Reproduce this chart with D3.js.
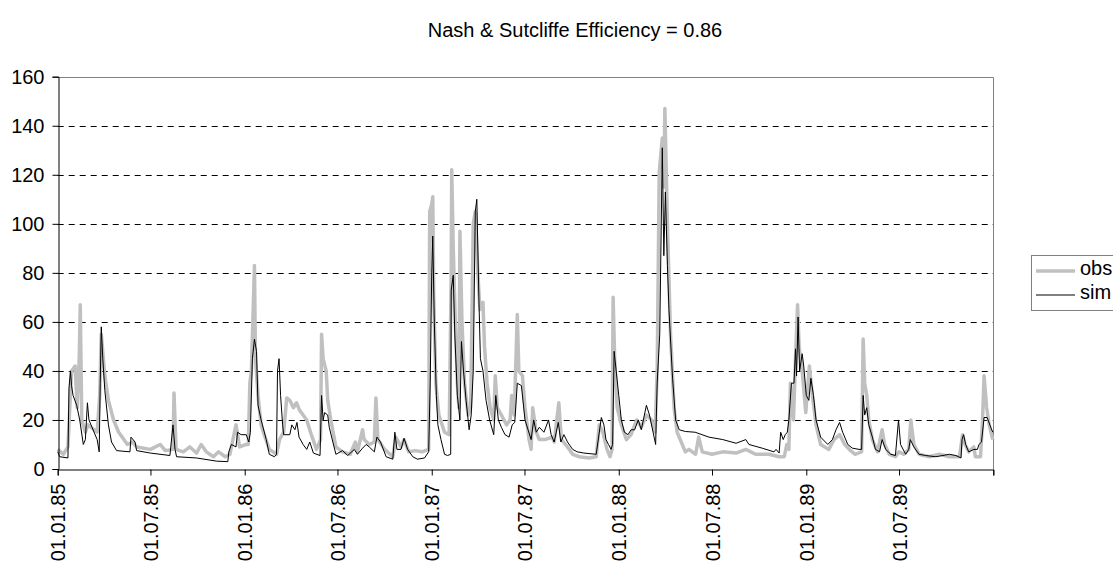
<!DOCTYPE html>
<html lang="en">
<head>
<meta charset="utf-8">
<script src="https://d3js.org/d3.v7.min.js"></script>
<style>
  body { margin: 0; background: #fff; }
  svg text { font-family: "Liberation Sans", Arial, sans-serif; fill: #000; }
</style>
</head>
<body>
<script>
// ---- data ----
const title = "Nash & Sutcliffe Efficiency = 0.86";
const yTicks = [0, 20, 40, 60, 80, 100, 120, 140, 160];
const xTickLabels = ["01.01.85", "01.07.85", "01.01.86", "01.07.86", "01.01.87",
                     "01.07.87", "01.01.88", "01.07.88", "01.01.89", "01.07.89"];
const seriesNames = ["obs", "sim"];

const obsDates = [
  "1985-01-01","1985-01-12","1985-01-21","1985-01-28","1985-02-04","1985-02-08","1985-02-12","1985-02-14",
  "1985-02-17","1985-02-24","1985-03-01","1985-03-19","1985-03-24","1985-03-27","1985-04-03","1985-04-10",
  "1985-04-20","1985-04-30","1985-05-07","1985-05-17","1985-05-27","1985-06-04","1985-07-01","1985-07-20",
  "1985-07-30","1985-08-14","1985-08-16","1985-08-20","1985-09-03","1985-09-16","1985-09-29","1985-10-08",
  "1985-10-18","1985-11-01","1985-11-11","1985-11-24","1985-12-03","1985-12-15","1985-12-22",
  "1986-01-04","1986-01-08","1986-01-11","1986-01-14","1986-01-20","1986-01-22","1986-01-27","1986-02-02",
  "1986-02-08","1986-02-18","1986-03-04","1986-03-10","1986-03-18","1986-03-24","1986-03-30","1986-04-06",
  "1986-04-12","1986-04-18","1986-05-02","1986-05-11","1986-05-21","1986-05-29","1986-05-31","1986-06-03",
  "1986-06-09","1986-06-12","1986-06-18","1986-06-28","1986-07-11","1986-07-26","1986-08-05","1986-08-09",
  "1986-08-19","1986-08-22","1986-09-01","1986-09-11","1986-09-14","1986-09-18","1986-10-01","1986-10-17",
  "1986-10-23","1986-11-02","1986-11-08","1986-11-17","1986-11-30","1986-12-13","1986-12-26","1986-12-28",
  "1987-01-01","1987-01-03","1987-01-05","1987-01-09","1987-01-15","1987-01-26","1987-02-04","1987-02-08",
  "1987-02-09","1987-02-12","1987-02-16","1987-02-20","1987-02-23","1987-02-25","1987-03-01","1987-03-06",
  "1987-03-13","1987-03-18","1987-03-23","1987-03-27","1987-04-01","1987-04-05","1987-04-11","1987-04-14",
  "1987-04-19","1987-04-25","1987-05-02","1987-05-05","1987-05-09","1987-05-17","1987-05-27","1987-06-03",
  "1987-06-06","1987-06-11","1987-06-17","1987-06-20","1987-06-27","1987-07-02","1987-07-10","1987-07-14",
  "1987-07-17","1987-07-24","1987-07-30","1987-08-10","1987-08-24","1987-08-28","1987-09-06","1987-09-11",
  "1987-09-23","1987-10-03","1987-10-16","1987-11-04","1987-11-18","1987-11-24","1987-12-01","1987-12-09",
  "1987-12-15","1987-12-19","1987-12-21","1987-12-24","1987-12-29",
  "1988-01-06","1988-01-16","1988-01-25","1988-02-05","1988-02-14","1988-02-24","1988-03-05","1988-03-12",
  "1988-03-16","1988-03-20","1988-03-26","1988-03-29","1988-03-31","1988-04-05","1988-04-11","1988-04-18",
  "1988-04-24","1988-05-04","1988-05-10","1988-05-17","1988-05-30","1988-06-05","1988-06-12","1988-07-01",
  "1988-07-22","1988-08-17","1988-09-05","1988-09-24","1988-10-20","1988-11-09","1988-11-19","1988-11-24",
  "1988-11-28","1988-12-01","1988-12-07","1988-12-11","1988-12-15","1988-12-18","1988-12-24","1988-12-31",
  "1989-01-07","1989-01-13","1989-01-20","1989-01-29","1989-02-14","1989-02-24","1989-03-07","1989-03-17",
  "1989-03-26","1989-04-06","1989-04-19","1989-04-22","1989-04-25","1989-04-29","1989-05-03","1989-05-10",
  "1989-05-20","1989-05-29","1989-06-03","1989-06-12","1989-06-24","1989-07-01","1989-07-10","1989-07-20",
  "1989-07-24","1989-07-30","1989-08-09","1989-08-29","1989-09-18","1989-10-07","1989-10-27","1989-11-02",
  "1989-11-07","1989-11-14","1989-11-24","1989-11-27","1989-12-07","1989-12-11","1989-12-14","1989-12-19",
  "1989-12-24","1989-12-31"
];
const obsValues = [
  8,6,9,40,42,25,45,67, 20,15,18,15,30,55,38,28, 20,15,13,10,11,9,8,10, 7.5,8,31,8,7,9,6.5,10,
  7,5,7,5,6,18,9,
  10,10,35,40,83,45,30,18, 14,8,6,12,15,29,28,25, 27,24,20,14,8,12,55,45, 40,28,20,9,7,6,11,7,
  16,12,10,11,29,12,8,5, 13,9,12,7,7.5,7,8,105,
  108,111,70,35,22,15,14,80, 122,90,60,35,25,97,60,35, 22,25,100,105,80,65,68,50, 35,25,20,38,25,22,18,20,
  30,22,63,40,38,25,12,8, 25,15,12,12,13,11,27,12, 9,6,5,4.5,5,18,15,8, 5,8,70,45,25,
  18,12,14,20,17,22,20,15, 40,121,135,115,147,100,55,25, 15,10,7,8,6,13,7,6, 7,6.5,8,6,6,5,5,10,
  8,35,20,45,67,50,40,23,
  42,30,18,10,8,12,14,10, 8,6,7,53,35,30,20,12, 7,16,10,6,5,7,6,8, 20,10,6,5,6,5,5,14,
  10,7,9,5,5,20,38,25, 18,12
];

const simDates = [
  "1985-01-01","1985-01-05","1985-01-21","1985-01-23","1985-01-26","1985-01-28","1985-01-31","1985-02-07",
  "1985-02-13","1985-02-20","1985-02-24","1985-02-28","1985-03-03","1985-03-09","1985-03-19","1985-03-23",
  "1985-03-25","1985-03-27","1985-03-30","1985-04-03","1985-04-10","1985-04-16","1985-04-26","1985-05-22",
  "1985-05-24","1985-06-01","1985-06-04","1985-07-01","1985-08-08","1985-08-14","1985-08-18","1985-08-21",
  "1985-09-29","1985-11-07","1985-11-29","1985-12-01","1985-12-06","1985-12-15","1985-12-18","1985-12-25",
  "1986-01-04","1986-01-09","1986-01-12","1986-01-16","1986-01-20","1986-01-24","1986-01-27","1986-02-02",
  "1986-02-12","1986-02-18","1986-02-28","1986-03-04","1986-03-06","1986-03-09","1986-03-12","1986-03-16",
  "1986-03-18","1986-03-30","1986-04-03","1986-04-09","1986-04-13","1986-04-17","1986-04-25","1986-05-02",
  "1986-05-08","1986-05-15","1986-05-28","1986-05-31","1986-06-03","1986-06-06","1986-06-12","1986-06-15",
  "1986-06-22","1986-06-28","1986-07-11","1986-07-21","1986-08-03","1986-08-09","1986-08-19","1986-08-26",
  "1986-09-01","1986-09-11","1986-09-16","1986-09-23","1986-10-04","1986-10-17","1986-10-21","1986-10-25",
  "1986-11-02","1986-11-08","1986-11-15","1986-11-25","1986-12-04","1986-12-18","1986-12-26","1986-12-29",
  "1987-01-01","1987-01-03","1987-01-06","1987-01-10","1987-01-13","1987-01-19","1987-01-26","1987-02-01",
  "1987-02-07","1987-02-08","1987-02-12","1987-02-15","1987-02-20","1987-02-25","1987-02-28","1987-03-04",
  "1987-03-09","1987-03-15","1987-03-19","1987-03-23","1987-03-27","1987-03-30","1987-04-03","1987-04-06",
  "1987-04-11","1987-04-17","1987-04-24","1987-05-02","1987-05-06","1987-05-11","1987-05-17","1987-05-24",
  "1987-06-01","1987-06-07","1987-06-12","1987-06-17","1987-06-25","1987-07-02","1987-07-08","1987-07-14",
  "1987-07-19","1987-07-24","1987-07-30","1987-08-08","1987-08-17","1987-08-22","1987-08-28","1987-09-05",
  "1987-09-10","1987-09-16","1987-09-23","1987-10-03","1987-10-12","1987-10-25","1987-11-18","1987-11-28",
  "1987-12-03","1987-12-07","1987-12-12","1987-12-17","1987-12-20","1987-12-23","1987-12-27",
  "1988-01-01","1988-01-06","1988-01-12","1988-01-19","1988-01-25","1988-02-01","1988-02-08","1988-02-14",
  "1988-02-24","1988-03-01","1988-03-08","1988-03-13","1988-03-16","1988-03-21","1988-03-26","1988-03-29",
  "1988-04-01","1988-04-05","1988-04-08","1988-04-15","1988-04-21","1988-04-28","1988-05-10","1988-05-29",
  "1988-06-25","1988-07-22","1988-08-17","1988-09-05","1988-09-11","1988-10-07","1988-10-30","1988-11-03",
  "1988-11-09","1988-11-12","1988-11-17","1988-11-21","1988-11-25","1988-11-28","1988-12-03","1988-12-08",
  "1988-12-11","1988-12-13","1988-12-16","1988-12-19","1988-12-24","1988-12-27",
  "1989-01-01","1989-01-06","1989-01-10","1989-01-15","1989-01-20","1989-01-29","1989-02-12","1989-02-21",
  "1989-02-28","1989-03-07","1989-03-13","1989-03-23","1989-04-01","1989-04-14","1989-04-19","1989-04-22",
  "1989-04-25","1989-04-29","1989-05-03","1989-05-10","1989-05-16","1989-05-24","1989-05-29","1989-06-05",
  "1989-06-15","1989-06-24","1989-06-30","1989-07-04","1989-07-14","1989-07-20","1989-07-23","1989-07-30",
  "1989-08-09","1989-08-22","1989-09-11","1989-10-07","1989-10-20","1989-10-30","1989-11-01","1989-11-04",
  "1989-11-08","1989-11-14","1989-11-24","1989-12-01","1989-12-04","1989-12-09","1989-12-14","1989-12-20",
  "1989-12-27","1989-12-31"
];
const simValues = [
  7,5,4.5,33,40,34,30,26, 20,10,12,27,20,17,12,7, 35,58,45,32,18,11,7.5,7, 13,11,7.5,6.5,5.5,18,8,5,
  4.5,3.2,3,7,10,9,15,14,
  14,11,15,45,53,48,26,20, 12,6,5,6,40,45,30,18, 14,14,18,16,19,13,10,8, 11,6.5,5.5,30,20,23,22,17,
  11,6,7.5,5.5,8,6,8.5,10, 9,7,13,11,5,4,15,8, 8,12.5,8,5,4,4.5,7,35,
  80,95,60,30,18,12,6,5.5, 6,73,79,55,30,20,52,40, 28,16,22,40,105,110,70,45, 40,28,20,14,30,20,17,14,
  13,18,19,35,34,20,16,12, 20,15,17,15,20,14,11,19, 11,14,11,8,7,6.5,6,21, 18,12,10,8,10,48,40,
  30,20,15,14,16,16,20,16, 26,22,15,10,35,55,131,87, 113,83,65,37,20,16,15.3,15, 13,12,10.5,12,10,8.5,7,8,
  6.5,15,12,14,15,20,35,35, 49,38,62,40,47,42,
  30,28,37,30,20,13,10,12, 16,19,15,10,8.5,8,8,30, 22,25,18,13,8,7,12,8, 6,5.5,20,10,6,8,12,9,
  6,5.5,5,6,5.5,4.5,12,14, 10,7,8,8,10,11,21,21, 17,15
];

// ---- layout ----
const W = 1113, H = 563;
const m = { left: 57.7, right: 993.3, top: 76.7, bottom: 469 };
const parse = d3.timeParse("%Y-%m-%d");

const obs = obsDates.map((d, i) => ({ date: parse(d), value: obsValues[i] }));
const sim = simDates.map((d, i) => ({ date: parse(d), value: simValues[i] }));
const tickDates = xTickLabels.map(d3.timeParse("%d.%m.%y")).concat([new Date(1990, 0, 1)]);

const x = d3.scaleTime()
    .domain([new Date(1985, 0, 1), new Date(1990, 0, 1)])
    .range([m.left, m.right]);
const y = d3.scaleLinear().domain([0, 160]).range([m.bottom, m.top]);

const svg = d3.select("body").append("svg")
    .attr("width", W).attr("height", H);

// title
svg.append("text")
    .attr("x", 575).attr("y", 37)
    .attr("text-anchor", "middle")
    .style("font-size", "20px")
    .text(title);

// gridlines
svg.append("g").selectAll("line")
    .data(yTicks.filter(t => t > 0 && t < 160))
    .enter().append("line")
    .attr("x1", m.left).attr("x2", m.right)
    .attr("y1", d => Math.round(y(d)) + 0.5).attr("y2", d => Math.round(y(d)) + 0.5)
    .attr("stroke", "#000").attr("stroke-width", 1)
    .attr("stroke-dasharray", "6,5");

// plot border (top & right)
svg.append("path")
    .attr("d", `M${m.left},${Math.round(m.top) + 0.5}H${Math.round(m.right) + 0.5}V${m.bottom}`)
    .attr("fill", "none").attr("stroke", "#808080").attr("stroke-width", 1);

// series
const line = d3.line().x(d => x(d.date)).y(d => y(d.value));
svg.append("path").datum(obs).attr("d", line)
    .attr("fill", "none").attr("stroke", "#c0c0c0").attr("stroke-width", 3.5)
    .attr("stroke-linejoin", "round");
svg.append("path").datum(sim).attr("d", line)
    .attr("fill", "none").attr("stroke", "#000").attr("stroke-width", 1);

// y axis
const yAxis = svg.append("g")
    .attr("transform", `translate(${Math.round(m.left) + 0.5},0)`)
    .call(d3.axisLeft(y).tickValues(yTicks).tickSize(6).tickPadding(8));
yAxis.select(".domain").attr("stroke", "#000");
yAxis.selectAll("text").style("font-size", "20px");

// x axis
const xAxis = svg.append("g")
    .attr("transform", `translate(0,${Math.round(m.bottom) + 0.5})`)
    .call(d3.axisBottom(x).tickValues(tickDates).tickSize(6)
        .tickFormat((d, i) => xTickLabels[i] || ""));
xAxis.select(".domain").attr("stroke", "#000");
xAxis.selectAll("text")
    .style("font-size", "20px")
    .attr("text-anchor", "end")
    .attr("transform", "rotate(-90)")
    .attr("x", -14).attr("y", 0).attr("dy", "0.35em");

// legend
const lg = svg.append("g");
lg.append("rect")
    .attr("x", 1031.5).attr("y", 255.5).attr("width", 90).attr("height", 55)
    .attr("fill", "#fff").attr("stroke", "#808080");
const entries = [
  { name: seriesNames[0], color: "#c0c0c0", w: 3.5, yy: 271 },
  { name: seriesNames[1], color: "#000", w: 1, yy: 295 }
];
entries.forEach(e => {
  lg.append("line").attr("x1", 1036).attr("x2", 1075)
    .attr("y1", e.yy).attr("y2", e.yy)
    .attr("stroke", e.color).attr("stroke-width", e.w);
  lg.append("text").attr("x", 1080).attr("y", e.yy - 3).attr("dy", "0.35em")
    .style("font-size", "20px").text(e.name);
});
</script>
</body>
</html>
